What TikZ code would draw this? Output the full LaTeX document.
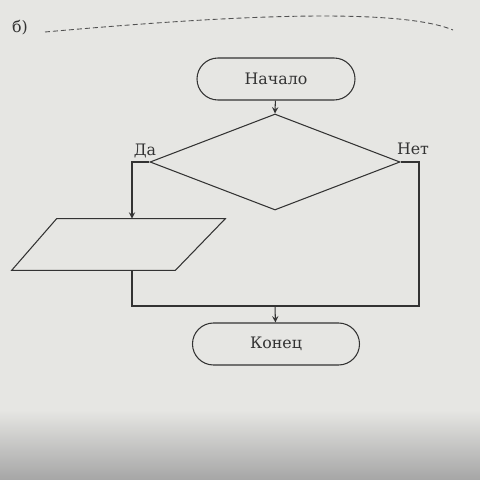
\documentclass[tikz,border=0pt]{standalone}
\usepackage{fontspec}
\setmainfont{DejaVu Serif}
\usetikzlibrary{shapes.geometric}

\definecolor{paper}{HTML}{E6E6E3}
\definecolor{ink}{HTML}{333333}

\tikzset{
    terminal/.style={draw=ink, line width=0.6pt, rectangle, rounded corners=4.2mm,
        minimum width=31.6mm, minimum height=8.4mm, text=ink},
    decision/.style={draw=ink, line width=0.6pt, diamond, inner sep=0pt,
        minimum width=50mm, minimum height=19.2mm},
    iobox/.style={rectangle, inner sep=0pt, minimum width=42.6mm, minimum height=10.2mm},
    flow/.style={draw=ink, line width=0.6pt},
    answer/.style={text=ink, inner sep=0pt}
}

\begin{document}
\begin{tikzpicture}[x=0.2mm, y=-0.2mm, >=stealth, font=\fontsize{9}{11}\selectfont]
    % page
    \fill[paper] (0,0) rectangle (480,480);
    \shade[top color=paper, bottom color=gray!70] (0,410) rectangle (480,480);
    \useasboundingbox (0,0) rectangle (480,480);

    \node[answer] (part) at (20,28) {б)};
    \draw[ink!85, dash pattern=on 1mm off 0.6mm, line width=0.5pt]
        (45,32) .. controls (180,20) and (390,4) .. (453,30);

    \node[terminal] (start) at (276,79) {Начало};
    \node[decision] (dec) at (275,162) {};
    \node[terminal, minimum width=33.4mm] (end) at (276,344) {Конец};

    % input/output block
    \node[iobox] (io) at (118.5,244.5) {};
    \draw[flow] ([xshift=9mm]io.north west) -- (io.north east)
        -- ([xshift=-10mm]io.south east) -- (io.south west) -- cycle;

    \node[answer] (yeslbl) at (145,151) {Да};
    \node[answer] (nolbl) at (413,149) {Нет};

    \coordinate (yes) at (132,162);
    \coordinate (no) at (419,162);
    \coordinate (join) at (275,306);

    \draw[flow, ->] (start) -- (dec.north);
    \draw[flow, ->] (dec.west) -- (yes) -- (yes |- io.north);
    \draw[flow] (dec.east) -- (no) -- (no |- join) -- (join);
    \draw[flow] (yes |- io.south) -- (yes |- join) -- (join);
    \draw[flow, ->] (join) -- (end);
\end{tikzpicture}
\end{document}
